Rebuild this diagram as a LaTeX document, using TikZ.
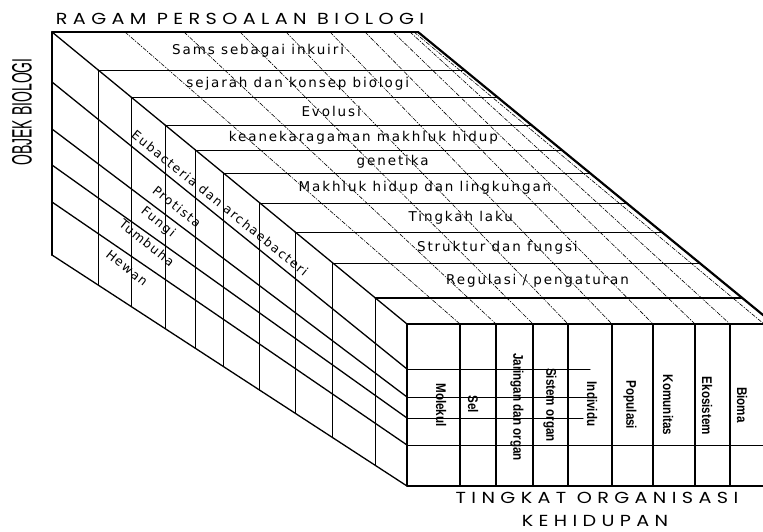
\documentclass[tikz,border=0pt]{standalone}
\usepackage{fontspec}
\usetikzlibrary{calc}
\setmainfont{DejaVu Sans}
\newfontfamily\comicf[LetterSpace=14]{DejaVu Sans}
\newfontfamily\sidef[LetterSpace=12]{DejaVu Sans}
\newfontfamily\titlef[LetterSpace=28]{Poppins}
\newfontfamily\narrowf{Liberation Sans}
\tikzset{
  edge/.style={line width=1.3pt},
  thickedge/.style={line width=2.2pt},
  grid/.style={line width=1pt},
  fgrid/.style={line width=1.6pt},
  dd/.style={line width=0.6pt, dash pattern=on 4pt off 1.5pt on 1pt off 1.5pt},
  toplab/.style={font=\comicf\fontsize{13.5}{15}\selectfont, inner sep=0pt},
  sidelab/.style={font=\sidef\fontsize{12.5}{14}\selectfont, inner sep=0pt, rotate=-39},
  frontlab/.style={font=\narrowf\bfseries\fontsize{14}{16}\selectfont, inner sep=0pt, rotate=-90},
  titlelab/.style={font=\titlef\fontsize{16}{18}\selectfont, inner sep=0pt}
}
\newcommand{\fl}[1]{\scalebox{0.83}[1]{#1}}
\newcommand{\tl}[1]{\scalebox{1.2}[1]{#1}}
\begin{document}
\begin{tikzpicture}[x=1pt,y=-1pt,line cap=round,line join=round]
\useasboundingbox (0,0) rectangle (763,531);
\clip (0,0) rectangle (763,531);
\fill[white] (0,0) rectangle (763,531);
% main corners
\coordinate (TL) at (52,32);
\coordinate (TR) at (418,32);
\coordinate (FL) at (407,324);
\coordinate (FR) at (774,324);
\coordinate (BL) at (52,255);
\coordinate (FBL) at (407,486);
\coordinate (FBR) at (774,486);
% top face dashed diagonals
\foreach \tx/\fx in {125/460,184/496,240/533,286/568,330/612,365/653,393/695,410/730}{
  \coordinate (dt\fx) at (\tx,32);
  \coordinate (df\fx) at (\fx,324);
  \draw[dd] (dt\fx) -- (df\fx);
}
\coordinate (rd1) at (414,32);
\coordinate (rd2) at (764,324);
\draw[dd] (rd1) -- (rd2);
% row lines of top face
\foreach \y in {70,97,125,150,173,203,232,263}{
  \draw[grid] ($(TL)!{(\y-32)/292}!(FL)$) -- ($(TR)!{(\y-32)/292}!(FR)$);
}
\draw[thickedge] ($(TL)!{266/292}!(FL)$) coordinate (S298) -- ($(TR)!{266/292}!(FR)$);
% left face verticals
\foreach \y in {70,97,125,150,173,203,232,263,298}{
  \draw[grid] ($(TL)!{(\y-32)/292}!(FL)$) -- ($(BL)!{(\y-32)/292}!(FBL)$);
}
% left face diagonals
\foreach \a/\b in {82/369,129/397,165/418,202/445}{
  \coordinate (la\a) at (52,\a);
  \coordinate (lb\b) at (407,\b);
  \draw[edge] (la\a) -- (lb\b);
}
\draw[edge] (BL) -- (FBL);
% outer edges
\draw[edge] (TL) -- (TR);
\draw[thickedge] (TR) -- (FR);
\draw[edge] (TL) -- (FL);
\draw[thickedge] (TL) -- (BL);
% front face
\foreach \x in {460,496,533,568,612,653,695,730}{
  \coordinate (fv\x) at (\x,324);
  \coordinate (fw\x) at (\x,486);
  \draw[fgrid] (fv\x) -- (fw\x);
}
\foreach \y/\e in {369/590,397/593,418/583}{
  \coordinate (fh\y) at (\e,\y);
  \draw[grid] (lb\y) -- (fh\y);
}
\coordinate (fh445) at (774,445);
\draw[grid] (lb445) -- (fh445);
\draw[thickedge] (FL) rectangle (FBR);
% top labels (row centres)
\foreach \ya/\yb/\txt in {32/70/{Sams sebagai inkuiri},70/97/{sejarah dan konsep biologi},97/125/{Evolusi},125/150/{keanekaragaman makhluk hidup},150/173/{genetika},173/203/{Makhluk hidup dan lingkungan},203/232/{Tingkah laku},232/263/{Struktur dan fungsi},263/298/{Regulasi / pengaturan}}{
  \node[toplab] at ($($(TL)!{((\ya+\yb)/2-32)/292}!(FL)$)!0.5!($(TR)!{((\ya+\yb)/2-32)/292}!(FR)$)$) {\txt};
}
% side labels
\node[sidelab] (eub) at (220,203) {Eubacteria dan archaebacteri};
\node[sidelab] (pro) at (177,207) {Protista};
\node[sidelab] (fun) at (158,222) {Fungi};
\node[sidelab] (tum) at (147,243) {Tumbuha};
\node[sidelab] (hew) at (127,268) {Hewan};
% front labels
\node[frontlab] (mol) at (441,405) {\fl{Molekul}};
\node[frontlab] (sel) at (473,404) {\fl{Sel}};
\node[frontlab] (jar) at (517,407) {\fl{Jaringan dan organ}};
\node[frontlab] (sis) at (550,405) {\fl{Sistem organ}};
\node[frontlab] (ind) at (592,404) {\fl{Individu}};
\node[frontlab] (pop) at (630,405) {\fl{Populasi}};
\node[frontlab] (kom) at (668,405) {\fl{Komunitas}};
\node[frontlab] (eko) at (707,406) {\fl{Ekosistem}};
\node[frontlab] (bio) at (742,405) {\fl{Bioma}};
% titles
\node[titlelab] (t1) at (240,19) {\tl{RAGAM PERSOALAN BIOLOGI}};
\node[titlelab] (t2) at (597,498) {\tl{TINGKAT ORGANISASI}};
\node[titlelab] (t3) at (595,521) {\tl{KEHIDUPAN}};
\node[inner sep=0pt, rotate=90, font=\narrowf\fontsize{28}{30}\selectfont] (ob) at (22,112) {\scalebox{0.5}[1]{OBJEK BIOLOGI}};
\end{tikzpicture}
\end{document}
